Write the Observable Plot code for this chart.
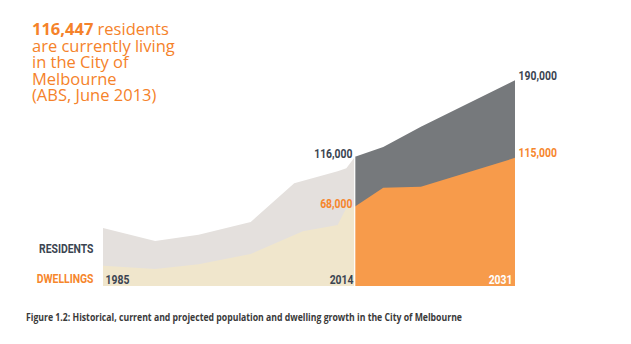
<!DOCTYPE html>
<html>
<head>
<meta charset="utf-8">
<script src="https://cdn.jsdelivr.net/npm/d3@7"></script>
<script src="https://cdn.jsdelivr.net/npm/@observablehq/plot@0.6"></script>
<style>
  body { margin: 0; background: #fff; }
  #wrap { position: relative; width: 631px; height: 344px; overflow: hidden; background: #fff; }
  #headline { position: absolute; left: 32px; top: 21px; font-family: "Open Sans", sans-serif; font-weight: 500; font-size: 16.5px; line-height: 16.6px; color: #f5822a; white-space: nowrap; }
  #headline b { font-weight: 700; }
  #caption { position: absolute; left: 26px; top: 311px; font-family: "Open Sans", sans-serif; font-weight: 700; font-size: 10.8px; line-height: 12px; color: #3a3a3a; white-space: nowrap; transform-origin: 0 0; }
  #chart { position: absolute; left: 0; top: 0; }
</style>
</head>
<body>
<div id="wrap">
  <div id="chart"></div>
  <div id="headline"><b>116,447</b> residents<br>are currently living<br>in the City of<br>Melbourne<br>(ABS, June 2013)</div>
  <div id="caption">Figure 1.2: Historical, current and projected population and dwelling growth in the City of Melbourne</div>
</div>
<script>
// ---- Data ----
const histYearsResidents = [1985, 1991, 1996, 2002, 2007, 2012, 2013, 2014];
const histResidents      = [47000, 34500, 40500, 53000, 90500, 102000, 105000, 116000];
const histYearsDwellings = [1985, 1991, 1996, 2002, 2008, 2012, 2013, 2014];
const histDwellings      = [10500, 7500, 12000, 22000, 44000, 50000, 66500, 68000];
const projYears          = [2014, 2017, 2021, 2031];
const projResidents      = [116000, 125500, 145000, 190000];
const projDwellings      = [68000, 86000, 87000, 115000];
const seriesNames        = ["RESIDENTS", "DWELLINGS"];
const yearLabels         = [1985, 2014, 2031];

// ---- Styling ----
const C = {
  resHist: "#e4e0dd", dwHist: "#f0e6cc", resProj: "#76797c", dwProj: "#f79b4b",
  dark: "#3b4451", orange: "#f6862c"
};
const labelFont = 'Roboto, "Open Sans", sans-serif';

const rows = (xs, ys) => xs.map((year, i) => ({year, value: ys[i]}));
const yFloor = -9000;               // bottom of the value scale
const yDomain = [yFloor, 200000];
// the historical and projected periods are drawn at slightly different year widths
const yearPos = d3.scaleLinear([yearLabels[0], yearLabels[1], yearLabels[2]], [0, 0.6117, 1]);
const fmt = d3.format(",");

const leftLabels = [
  {year: projYears[0], value: projResidents[0], color: C.dark},
  {year: projYears[0], value: projDwellings[0], color: C.orange}
];
const last = projYears.length - 1;
const rightLabels = [
  {year: projYears[last], value: projResidents[last], color: C.dark},
  {year: projYears[last], value: projDwellings[last], color: C.orange}
];

const plot = Plot.plot({
  width: 631,
  height: 344,
  marginTop: 70,
  marginBottom: 58,
  marginLeft: 103,
  marginRight: 116,
  x: {transform: yearPos, domain: [0, 1], axis: null},
  y: {domain: yDomain, axis: null},
  color: {type: "identity"},
  style: {background: "transparent", fontFamily: labelFont, fontSize: "13px", fontWeight: "bold", overflow: "visible"},
  marks: [
    Plot.areaY(rows(histYearsResidents, histResidents), {x: "year", y1: yFloor, y2: "value", fill: C.resHist}),
    Plot.areaY(rows(histYearsDwellings, histDwellings), {x: "year", y1: yFloor, y2: "value", fill: C.dwHist}),
    Plot.areaY(rows(projYears, projResidents), {x: "year", y1: yFloor, y2: "value", fill: C.resProj}),
    Plot.areaY(rows(projYears, projDwellings), {x: "year", y1: yFloor, y2: "value", fill: C.dwProj}),
    Plot.ruleX([projYears[0]], {y1: yFloor, y2: projResidents[0], stroke: "#fff", strokeWidth: 1.2, dx: -0.8}),
    // value labels
    Plot.text(leftLabels, {className: "lbl", x: "year", y: "value", text: d => fmt(d.value), fill: "color", textAnchor: "end", lineAnchor: "bottom", dx: -3, dy: 1}),
    Plot.text(rightLabels, {className: "lbl", x: "year", y: "value", text: d => fmt(d.value), fill: "color", textAnchor: "start", lineAnchor: "bottom", dx: 3, dy: -1}),
    // year labels
    Plot.text([yearLabels[0]], {className: "lbl", x: d => d, text: d => String(d), frameAnchor: "bottom", textAnchor: "start", lineAnchor: "bottom", dx: 2, dy: -3, fill: C.dark}),
    Plot.text([yearLabels[1]], {className: "lbl", x: d => d, text: d => String(d), frameAnchor: "bottom", textAnchor: "end", lineAnchor: "bottom", dx: -2, dy: -3, fill: C.dark}),
    Plot.text([yearLabels[2]], {className: "lbl", x: d => d, text: d => String(d), frameAnchor: "bottom", textAnchor: "end", lineAnchor: "bottom", dx: -3, dy: -3, fill: "#fff"}),
    // series labels
    Plot.text([seriesNames[0]], {className: "lbl", x: () => yearLabels[0], text: d => d, frameAnchor: "bottom", textAnchor: "end", lineAnchor: "bottom", dx: -10, dy: -34, fill: C.dark}),
    Plot.text([seriesNames[1]], {className: "lbl", x: () => yearLabels[0], text: d => d, frameAnchor: "bottom", textAnchor: "end", lineAnchor: "bottom", dx: -10, dy: -4, fill: C.orange})
  ]
});
document.getElementById("chart").appendChild(plot);

// condensed look for the chart labels: narrow each label around its anchor point
plot.querySelectorAll("g.lbl text").forEach(t => {
  const tr = t.getAttribute("transform") || "";
  t.setAttribute("transform", tr + " scale(0.8,1)");
});

// fit caption width to the reference line length
const cap = document.getElementById("caption");
const w = cap.getBoundingClientRect().width;
cap.style.transform = `scaleX(${436 / w})`;
</script>
</body>
</html>
